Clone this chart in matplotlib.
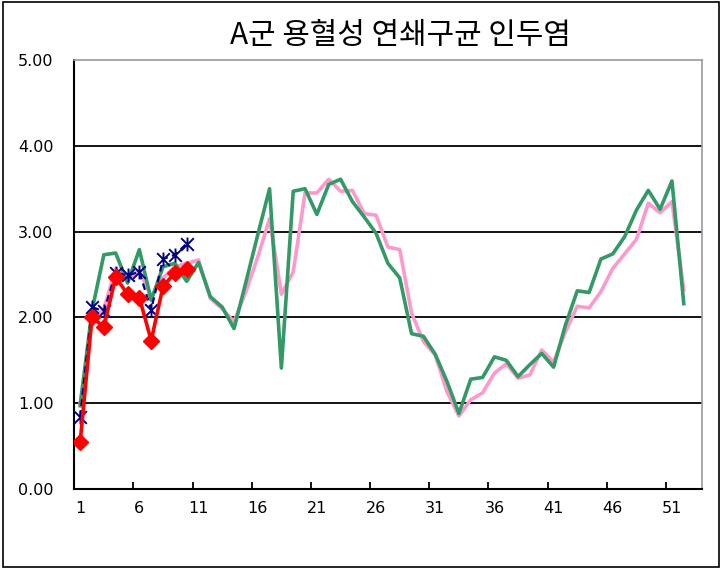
import matplotlib
matplotlib.use('Agg')
import matplotlib.pyplot as plt
from matplotlib.patches import Rectangle
from matplotlib.path import Path
import numpy as np

# weekly values
weeks = np.arange(1, 53)
pink = [1.00, 1.97, 2.10, 2.57, 2.43, 2.55, 2.24, 2.46, 2.59, 2.63,
        2.67, 2.22, 2.10, 1.95, 2.30, 2.70, 3.15, 2.27, 2.53, 3.45,
        3.45, 3.61, 3.47, 3.48, 3.21, 3.19, 2.82, 2.79, 2.05, 1.72,
        1.56, 1.13, 0.85, 1.04, 1.12, 1.35, 1.46, 1.29, 1.33, 1.62,
        1.48, 1.83, 2.13, 2.11, 2.30, 2.57, 2.74, 2.91, 3.33, 3.22,
        3.35, 2.32]
green = [0.97, 2.08, 2.73, 2.75, 2.40, 2.79, 2.20, 2.59, 2.63, 2.42,
         2.64, 2.24, 2.12, 1.87, 2.41, 2.96, 3.50, 1.41, 3.47, 3.50,
         3.20, 3.55, 3.61, 3.35, 3.17, 2.98, 2.63, 2.46, 1.81, 1.78,
         1.57, 1.25, 0.88, 1.28, 1.30, 1.54, 1.50, 1.31, 1.45, 1.58,
         1.42, 1.91, 2.31, 2.29, 2.68, 2.74, 2.94, 3.25, 3.48, 3.26,
         3.59, 2.16]
wk_new = np.arange(1, 11)
navy = [0.84, 2.12, 2.07, 2.52, 2.49, 2.53, 2.09, 2.68, 2.73, 2.86]
red = [0.55, 2.00, 1.89, 2.47, 2.27, 2.23, 1.73, 2.36, 2.52, 2.56]

xlabels = [1, 6, 11, 16, 21, 26, 31, 36, 41, 46, 51]
ylabels = ['0.00', '1.00', '2.00', '3.00', '4.00', '5.00']

# excel-like star marker: an x with a vertical bar
star = Path([(-1, -1), (1, 1), (-1, 1), (1, -1), (0, -1.1), (0, 1.1)],
            [Path.MOVETO, Path.LINETO] * 3)

fig = plt.figure(figsize=(7.21, 5.69), dpi=100)
ax = fig.add_axes([0.103, 0.1406, 0.870, 0.754])

for y in [1, 2, 3, 4]:
    ax.axhline(y, color='black', lw=1.3, zorder=1)

ax.plot(weeks, pink, color='#FF99CC', lw=2.6, zorder=2)
ax.plot(weeks, green, color='#339966', lw=2.6, zorder=3)
ax.plot(wk_new, navy, color='#000080', lw=1.6, ls=(0, (3, 2)), marker=star,
        ms=10, mew=1.4, zorder=4)
ax.plot(wk_new, red, color='#FF0000', lw=2.6, marker='D', ms=8, zorder=5)

ax.set_xlim(0.5, 53.5)
ax.set_ylim(0, 5)
ax.set_xticks(np.arange(5.5, 51, 5))
ax.set_xticklabels([])
ax.set_xticks(xlabels, minor=True)
ax.set_xticklabels([str(v) for v in xlabels], minor=True, fontsize=11.5,
                   family='DejaVu Sans')
ax.tick_params(axis='x', which='major', direction='in', length=5, width=1.3)
ax.tick_params(axis='x', which='minor', length=0, pad=9)
ax.set_yticks(range(6))
ax.set_yticklabels(ylabels, fontsize=11.5, family='DejaVu Sans')
ax.tick_params(axis='y', length=0, pad=15)

for s in ['left', 'bottom']:
    ax.spines[s].set_color('black')
    ax.spines[s].set_linewidth(1.5)
for s in ['top', 'right']:
    ax.spines[s].set_color('#999999')
    ax.spines[s].set_linewidth(1.2)

fig.text(0.555, 0.938, 'A군 용혈성 연쇄구균 인두염', ha='center', va='center',
         fontsize=21.5, family=['Noto Sans CJK KR', 'DejaVu Sans'])

fig.patches.append(Rectangle((0.004, 0.003), 0.993, 0.994, transform=fig.transFigure,
                             fill=False, ec='black', lw=1.2))

fig.savefig('out.png', dpi=100)
